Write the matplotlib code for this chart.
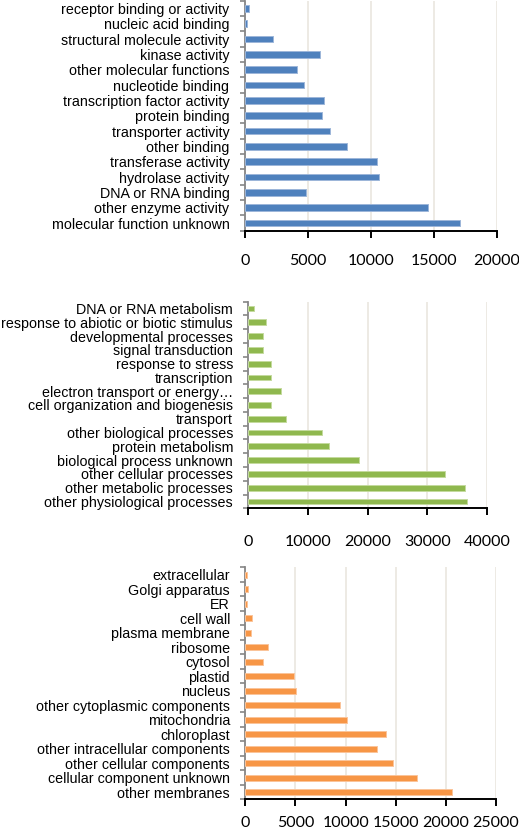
import matplotlib
matplotlib.use("Agg")
import matplotlib.pyplot as plt
from matplotlib.ticker import FixedLocator

# ---------------- data ----------------
mf_labels = ["receptor binding or activity", "nucleic acid binding", "structural molecule activity",
             "kinase activity", "other molecular functions", "nucleotide binding",
             "transcription factor activity", "protein binding", "transporter activity",
             "other binding", "transferase activity", "hydrolase activity",
             "DNA or RNA binding", "other enzyme activity", "molecular function unknown"]
mf_values = [350, 150, 2220, 6000, 4180, 4710, 6270, 6140, 6750, 8150, 10500, 10640,
             4890, 14580, 17120]
mf_ticks = [0, 5000, 10000, 15000, 20000]

bp_labels = ["DNA or RNA metabolism", "response to abiotic or biotic stimulus",
             "developmental processes", "signal transduction", "response to stress",
             "transcription", "electron transport or energy\u2026",
             "cell organization and biogenesis", "transport", "other biological processes",
             "protein metabolism", "biological process unknown", "other cellular processes",
             "other metabolic processes", "other physiological processes"]
bp_values = [950, 2900, 2460, 2400, 3800, 3800, 5530, 3800, 6370, 12290, 13460, 18550,
             32960, 36310, 36700]
bp_ticks = [0, 10000, 20000, 30000, 40000]

cc_labels = ["extracellular", "Golgi apparatus", "ER", "cell wall", "plasma membrane",
             "ribosome", "cytosol", "plastid", "nucleus", "other cytoplasmic components",
             "mitochondria", "chloroplast", "other intracellular components",
             "other cellular components", "cellular component unknown", "other membranes"]
cc_values = [170, 230, 130, 630, 565, 2290, 1730, 4820, 5090, 9410, 10110, 14000, 13100,
             14730, 17160, 20580]
cc_ticks = [0, 5000, 10000, 15000, 20000, 25000]

W, H = 519, 834
fig = plt.figure(figsize=(W / 100, H / 100), dpi=100)


def px_axes(left, top, right, bottom):
    return fig.add_axes([left / W, 1 - bottom / H, (right - left) / W, (bottom - top) / H])


def draw(ax, labels, values, ticks, color, edge, pad):
    n = len(labels)
    ypos = list(range(n - 1, -1, -1))
    ax.barh(ypos, values, height=0.42, color=color, edgecolor=edge, linewidth=0.7, zorder=3)
    ax.set_ylim(-0.5, n - 0.5)
    ax.set_xlim(ticks[0], ticks[-1])
    ax.set_xticks(ticks)
    ax.set_xticklabels([str(t) for t in ticks], fontfamily="Lato", fontsize=11.5)
    ax.set_yticks(ypos)
    ax.set_yticklabels(labels, fontfamily="Liberation Sans", fontsize=10.3)
    ax.tick_params(axis="y", length=0, pad=11)
    ax.yaxis.set_minor_locator(FixedLocator([i - 0.5 for i in range(n + 1)]))
    ax.tick_params(axis="y", which="minor", length=3.5, width=1.2, color="#868686", direction="out")
    ax.tick_params(axis="x", length=5, width=1.4, color="black", direction="out", pad=pad)
    for t in ticks:
        ax.axvline(t, color="#EAE6DF", linewidth=1.2, zorder=1)
    ax.spines["top"].set_visible(False)
    ax.spines["right"].set_visible(False)
    ax.spines["left"].set_color("#868686")
    ax.spines["left"].set_linewidth(1.3)
    ax.spines["bottom"].set_color("black")
    ax.spines["bottom"].set_linewidth(1.4)
    ax.set_facecolor("white")


ax1 = px_axes(244.7, 0.7, 496.7, 230.7)
draw(ax1, mf_labels, mf_values, mf_ticks, "#4F81BD", "#9DB6D9", 12)

ax2 = px_axes(248.3, 301.7, 487.0, 508.3)
draw(ax2, bp_labels, bp_values, bp_ticks, "#8FB84E", "#C4DA9E", 14)

ax3 = px_axes(245.3, 567.3, 496.0, 799.3)
draw(ax3, cc_labels, cc_values, cc_ticks, "#F79646", "#FBC49A", 7)

fig.savefig("out.png", dpi=100)
